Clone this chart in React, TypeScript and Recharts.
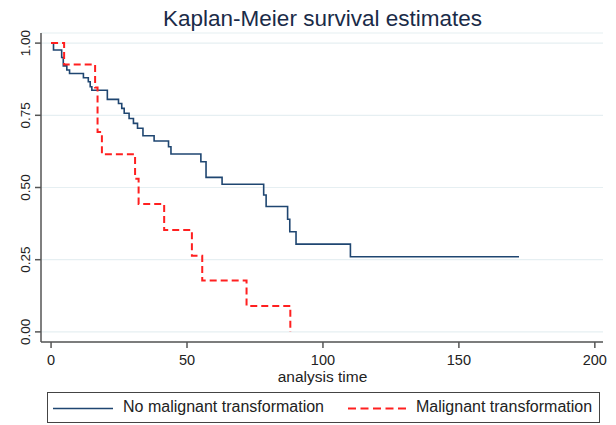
import React from "react";
import { LineChart, Line, XAxis, YAxis, CartesianGrid } from "recharts";

// Kaplan-Meier step estimates
const NO_MT_TIME = [
  0, 0.9, 3.9, 4.5, 5.8, 6.8, 11.9, 13.7, 14.4, 15.0, 20.7, 24.8, 26.0, 26.9, 28.7, 30.3,
  31.8, 33.8, 37.9, 43.2, 44.1, 55.1, 57.0, 62.9, 78.2, 79.1, 87.0, 87.8, 90.1, 110.1, 172.1,
];
const NO_MT_SURV = [
  1.0, 0.976, 0.95, 0.921, 0.907, 0.895, 0.88, 0.866, 0.849, 0.837, 0.805, 0.791, 0.774, 0.757,
  0.739, 0.722, 0.705, 0.679, 0.661, 0.641, 0.616, 0.589, 0.535, 0.511, 0.474, 0.434, 0.39,
  0.347, 0.304, 0.26, 0.26,
];
const MT_TIME = [0, 4.8, 16.2, 17.1, 18.7, 30.9, 32.2, 41.6, 51.8, 55.6, 71.9, 88.0];
const MT_SURV = [1.0, 0.926, 0.846, 0.692, 0.615, 0.53, 0.443, 0.353, 0.264, 0.178, 0.09, 0];

const X_TICKS = [0, 50, 100, 150, 200];
const Y_TICKS = [0, 0.25, 0.5, 0.75, 1];

const TITLE = "Kaplan-Meier survival estimates";
const X_LABEL = "analysis time";
const LABEL_NO_MT = "No malignant transformation";
const LABEL_MT = "Malignant transformation";

const BLUE = "#1f4671";
const RED = "#ff2020";
const FONT = "'Liberation Sans', Arial, sans-serif";

const noMt = NO_MT_TIME.map((t, i) => ({ t, s: NO_MT_SURV[i] }));
const mt = MT_TIME.map((t, i) => ({ t, s: MT_SURV[i] }));

const YTick = ({ x, y, payload }: any) => (
  <g transform={`translate(${x - 5},${y})`}>
    <text transform="rotate(-90)" textAnchor="middle" fontSize={13.5} fill="#222" fontFamily={FONT}>
      {Number(payload.value).toFixed(2)}
    </text>
  </g>
);

const XTick = ({ x, y, payload }: any) => (
  <text x={x} y={y + 17} textAnchor="middle" fontSize={14.5} fill="#222" fontFamily={FONT}>
    {payload.value}
  </text>
);

export default function App() {
  return (
    <div style={{ position: "absolute", left: 0, top: 0, width: 616, height: 425, background: "#fff", fontFamily: FONT }}>
      <div
        style={{
          position: "absolute",
          left: 0,
          width: 645,
          top: 6,
          textAlign: "center",
          fontSize: 22.5,
          lineHeight: "normal",
          color: "#1a2b48",
          whiteSpace: "nowrap",
        }}
      >
        {TITLE}
      </div>
      <LineChart width={616} height={425} margin={{ top: 33, right: 13, left: 0, bottom: 0 }}>
        <CartesianGrid horizontal vertical={false} stroke="#e6eff2" strokeWidth={1.2} />
        <XAxis
          type="number"
          dataKey="t"
          domain={[-3.7, 203]}
          ticks={X_TICKS}
          allowDataOverflow
          height={83}
          stroke="#555"
          strokeWidth={1.5}
          tickSize={6}
          tickMargin={0}
          tick={<XTick />}
        />
        <YAxis
          type="number"
          dataKey="s"
          domain={[-0.035, 1.035]}
          ticks={Y_TICKS}
          allowDataOverflow
          width={41}
          stroke="#555"
          strokeWidth={1.5}
          tickSize={6}
          tickMargin={0}
          tick={<YTick />}
        />
        <Line
          data={noMt}
          dataKey="s"
          type="stepAfter"
          stroke={BLUE}
          strokeWidth={1.6}
          dot={false}
          isAnimationActive={false}
        />
        <Line
          data={mt}
          dataKey="s"
          type="stepAfter"
          stroke={RED}
          strokeWidth={2}
          strokeDasharray="7 4"
          dot={false}
          isAnimationActive={false}
        />
      </LineChart>
      <div
        style={{
          position: "absolute",
          left: 0,
          width: 645,
          top: 369,
          textAlign: "center",
          fontSize: 15.5,
          lineHeight: "15px",
          color: "#222",
        }}
      >
        {X_LABEL}
      </div>
      <div
        style={{
          position: "absolute",
          left: 47,
          top: 392,
          width: 551,
          height: 29,
          border: "1px solid #444",
          fontSize: 16,
          lineHeight: "normal",
          color: "#222",
        }}
      >
        <svg width={551} height={29} style={{ position: "absolute", left: 0, top: 0 }}>
          <line x1={5} x2={65} y1={15.5} y2={15.5} stroke={BLUE} strokeWidth={1.6} />
          <line x1={300} x2={358} y1={15.5} y2={15.5} stroke={RED} strokeWidth={2} strokeDasharray="8 4.5" />
        </svg>
        <span style={{ position: "absolute", left: 75, top: 5, whiteSpace: "nowrap" }}>{LABEL_NO_MT}</span>
        <span style={{ position: "absolute", left: 368, top: 5, whiteSpace: "nowrap" }}>{LABEL_MT}</span>
      </div>
    </div>
  );
}
